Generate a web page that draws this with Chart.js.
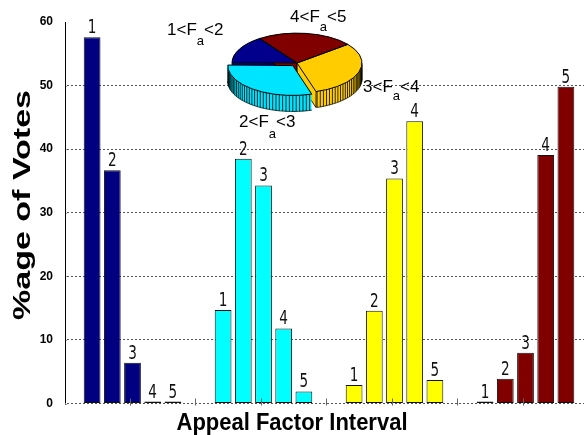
<!DOCTYPE html>
<html><head><meta charset="utf-8">
<script src="https://cdn.jsdelivr.net/npm/chart.js@4/dist/chart.umd.min.js"></script>
<style>
html,body{margin:0;padding:0;background:#fff;overflow:hidden;width:584px;height:435px;}
#wrap{position:absolute;left:0;top:0;width:591px;height:435px;}
#pieWrap{position:absolute;left:217px;top:-17px;width:160px;height:160px;}
.pl{position:absolute;font-family:"Liberation Sans",Arial,sans-serif;font-size:17px;line-height:17px;color:#000;white-space:nowrap;}
.pl span{font-size:13px;position:relative;}
</style></head>
<body>
<div id="wrap"><canvas id="bars"></canvas></div>
<div id="pieWrap"><canvas id="pie"></canvas></div>
<div class="pl" style="left:167px;top:20.6px">1&lt;F<span style="top:10px">a</span>&lt;2</div>
<div class="pl" style="left:290px;top:7.6px">4&lt;F<span style="top:9px">a</span>&lt;5</div>
<div class="pl" style="left:363px;top:77.6px">3&lt;F<span style="top:8px">a</span>&lt;4</div>
<div class="pl" style="left:239px;top:112.6px">2&lt;F<span style="top:11px">a</span>&lt;3</div>
<script>
// ---- data ----
const groups = ['1<Fa<2', '2<Fa<3', '3<Fa<4', '4<Fa<5'];
const rankLabels = ['1', '2', '3', '4', '5'];
const rank1 = [57.6, 14.7, 2.9, 0.3];
const rank2 = [36.7, 38.5, 14.6, 3.9];
const rank3 = [6.4, 34.3, 35.4, 8.0];
const rank4 = [0.3, 11.8, 44.4, 39.1];
const rank5 = [0.3, 1.9, 3.7, 49.8];
const groupColors = ['#000080', '#00FFFF', '#FFFF00', '#800000'];
const yMin = 0, yMax = 60, yStep = 10;
const yTitle = '%age of Votes';
const xTitle = 'Appeal Factor Interval';

const pieLabels = ['1<Fa<2', '4<Fa<5', '3<Fa<4', '2<Fa<3'];
const pieValues = [15, 24, 31, 30];
const pieColors = ['#00008C', '#800000', '#FFCC00', '#00E5FF'];
const pieOffsets = [0, 0, 0, 28];

const series = [rank1, rank2, rank3, rank4, rank5];

const AXIS_X = 65;

// ---- bar chart plugins ----
const barDecor = {
  id: 'barDecor',
  beforeDatasetsDraw(chart) {
    const ctx = chart.ctx;
    const ys = chart.scales.y;
    const area = chart.chartArea;
    // continue dotted grid lines to the axis line
    ctx.save();
    ctx.strokeStyle = '#555';
    ctx.lineWidth = 1;
    ctx.beginPath();
    ys.ticks.forEach(t => {
      if (t.value === yMax) return;
      const y = Math.round(ys.getPixelForValue(t.value)) + 0.5;
      ctx.moveTo(AXIS_X, y); ctx.lineTo(area.left - 0.5, y);
    });
    ctx.stroke();
    ctx.restore();
  },
  afterDatasetsDraw(chart) {
    const ctx = chart.ctx;
    chart.data.datasets.forEach((ds, di) => {
      const meta = chart.getDatasetMeta(di);
      meta.data.forEach(el => {
        ctx.save();
        ctx.translate(el.x, el.y - 4);
        ctx.scale(0.68, 1);
        ctx.font = '20px "DejaVu Sans"';
        ctx.textAlign = 'center';
        ctx.textBaseline = 'alphabetic';
        ctx.fillStyle = '#111';
        ctx.fillText(ds.label, 0, 0);
        ctx.restore();
      });
    });
  },
  afterDraw(chart) {
    const ctx = chart.ctx;
    const xs = chart.scales.x;
    const area = chart.chartArea;
    // y axis line
    ctx.save();
    ctx.strokeStyle = '#000';
    ctx.lineWidth = 1;
    ctx.beginPath();
    ctx.moveTo(AXIS_X + 0.5, area.top);
    ctx.lineTo(AXIS_X + 0.5, area.bottom);
    ctx.stroke();
    // small x tick marks at group centres and boundaries
    ctx.strokeStyle = '#666';
    ctx.beginPath();
    const n = chart.data.labels.length;
    for (let i = 0; i < n; i++) {
      const c = xs.getPixelForValue(i) - 3;
      const xs2 = [c];
      if (i < n - 1) xs2.push((c + xs.getPixelForValue(i + 1) - 3) / 2);
      xs2.forEach(x => {
        const px = Math.round(x) + 0.5;
        ctx.moveTo(px, area.bottom - 5);
        ctx.lineTo(px, area.bottom + 2);
      });
    }
    ctx.stroke();
    ctx.restore();

    // y title
    ctx.save();
    ctx.fillStyle = '#000';
    ctx.font = 'bold 34px "Liberation Sans", Arial, sans-serif';
    const wy = ctx.measureText(yTitle).width;
    ctx.translate(29.5, 205);
    ctx.scale(0.73, 1);
    ctx.rotate(-Math.PI / 2);
    ctx.scale(230 / wy, 1);
    ctx.textAlign = 'center';
    ctx.textBaseline = 'alphabetic';
    ctx.fillText(yTitle, 0, 0);
    ctx.restore();

    // x title
    ctx.save();
    ctx.fillStyle = '#000';
    ctx.font = 'bold 24px "Liberation Sans", Arial, sans-serif';
    const wx = ctx.measureText(xTitle).width;
    ctx.translate(292, 430);
    ctx.scale(231 / wx, 1);
    ctx.textAlign = 'center';
    ctx.textBaseline = 'alphabetic';
    ctx.fillText(xTitle, 0, 0);
    ctx.restore();
  }
};

new Chart(document.getElementById('bars'), {
  type: 'bar',
  data: {
    labels: groups,
    datasets: series.map((d, i) => ({
      label: rankLabels[i],
      data: d,
      backgroundColor: groupColors,
      borderColor: '#111',
      borderWidth: 1,
      borderSkipped: false,
      categoryPercentage: 0.771,
      barPercentage: 0.83
    }))
  },
  options: {
    responsive: true,
    maintainAspectRatio: false,
    animation: false,
    events: [],
    layout: { padding: { top: 22, left: 0, right: 0, bottom: 0 } },
    plugins: { legend: { display: false }, tooltip: { enabled: false } },
    scales: {
      x: {
        ticks: { display: false },
        grid: { display: false },
        border: { display: false },
        afterFit(s) { s.height = 31.5; }
      },
      y: {
        min: yMin, max: yMax,
        ticks: { stepSize: yStep, padding: 14, color: '#000',
                 font: { family: '"Liberation Sans", Arial', size: 12, weight: 'bold' } },
        grid: { drawTicks: false, lineWidth: 1,
                color: c => (c.tick && c.tick.value === yMax) ? 'rgba(0,0,0,0)' : '#555' },
        border: { display: false, dash: [2, 2] },
        afterFit(s) { s.width = 67; }
      }
    }
  },
  plugins: [barDecor]
});

// ---- 3D pie ----
const K = 0.46, H = 16;
function sq(ctx, cy) { ctx.translate(0, cy); ctx.scale(1, K); ctx.translate(0, -cy); }
function arcGeom(el, cy) {
  const off = (el.options.offset || 0) / 4;
  const mid = (el.startAngle + el.endAngle) / 2;
  const ex = el.x + Math.cos(mid) * off, ey = el.y + Math.sin(mid) * off;
  const R = el.outerRadius;
  return {
    ex, ey, R, off,
    P: (th, dy) => [ex + R * Math.cos(th), cy + K * (ey - cy + R * Math.sin(th)) + dy],
    C: (dy) => [ex, cy + K * (ey - cy) + dy]
  };
}
const pie3d = {
  id: 'pie3d',
  beforeDatasetsDraw(chart) {
    const ctx = chart.ctx;
    const meta = chart.getDatasetMeta(0);
    const cy = (chart.chartArea.top + chart.chartArea.bottom) / 2;
    const cols = chart.data.datasets[0].backgroundColor;
    const order = meta.data.map((e, i) => i).sort((a, b) =>
      (meta.data[a].options.offset || 0) - (meta.data[b].options.offset || 0));
    for (const i of order) {
      const el = meta.data[i];
      const g = arcGeom(el, cy);
      ctx.save();
      ctx.fillStyle = cols[i];
      for (let d = H; d >= 0; d--) {
        ctx.save();
        ctx.translate(0, d);
        sq(ctx, cy);
        ctx.beginPath();
        ctx.moveTo(g.ex, g.ey);
        ctx.arc(g.ex, g.ey, g.R, el.startAngle, el.endAngle);
        ctx.closePath();
        ctx.fill();
        ctx.restore();
      }
      ctx.strokeStyle = '#000';
      ctx.lineWidth = 0.8;
      ctx.beginPath();
      const step = Math.PI / 60;
      for (let th = Math.ceil(el.startAngle / step) * step; th <= el.endAngle; th += step) {
        if (Math.sin(th) > 0.0) {
          const [x, y] = g.P(th, 0);
          ctx.moveTo(x, y); ctx.lineTo(x, y + H);
        }
      }
      let started = false;
      for (let th = el.startAngle; th <= el.endAngle + 1e-6; th += Math.PI / 180) {
        if (Math.sin(th) > -0.02) {
          const [x, y] = g.P(th, H);
          if (!started) { ctx.moveTo(x, y); started = true; } else ctx.lineTo(x, y);
        } else started = false;
      }
      if (Math.cos(el.endAngle) > 0) {
        const c0 = g.C(0), c1 = g.C(H), p1 = g.P(el.endAngle, H), p0 = g.P(el.endAngle, 0);
        ctx.moveTo(c0[0], c0[1]); ctx.lineTo(c1[0], c1[1]); ctx.lineTo(p1[0], p1[1]); ctx.lineTo(p0[0], p0[1]);
      }
      if (-Math.cos(el.startAngle) > 0) {
        const c0 = g.C(0), c1 = g.C(H), p1 = g.P(el.startAngle, H), p0 = g.P(el.startAngle, 0);
        ctx.moveTo(c0[0], c0[1]); ctx.lineTo(c1[0], c1[1]); ctx.lineTo(p1[0], p1[1]); ctx.lineTo(p0[0], p0[1]);
      }
      ctx.stroke();
      ctx.restore();
    }
    ctx.save();
    sq(ctx, cy);
  },
  afterDatasetsDraw(chart) {
    const ctx = chart.ctx;
    ctx.restore();
    const meta = chart.getDatasetMeta(0);
    const cy = (chart.chartArea.top + chart.chartArea.bottom) / 2;
    ctx.save();
    ctx.strokeStyle = '#000';
    ctx.lineWidth = 1;
    meta.data.forEach(el => {
      const g = arcGeom(el, cy);
      ctx.save();
      sq(ctx, cy);
      ctx.beginPath();
      ctx.moveTo(g.ex, g.ey);
      ctx.arc(g.ex, g.ey, g.R, el.startAngle, el.endAngle);
      ctx.closePath();
      ctx.restore();
      ctx.stroke();
    });
    ctx.restore();
  }
};

new Chart(document.getElementById('pie'), {
  type: 'pie',
  data: {
    labels: pieLabels,
    datasets: [{ data: pieValues, backgroundColor: pieColors, borderWidth: 0, offset: pieOffsets }]
  },
  options: {
    responsive: true,
    maintainAspectRatio: false,
    animation: false,
    events: [],
    rotation: 271,
    radius: 65,
    layout: { padding: 0 },
    plugins: { legend: { display: false }, tooltip: { enabled: false } }
  },
  plugins: [pie3d]
});
</script>
</body></html>
